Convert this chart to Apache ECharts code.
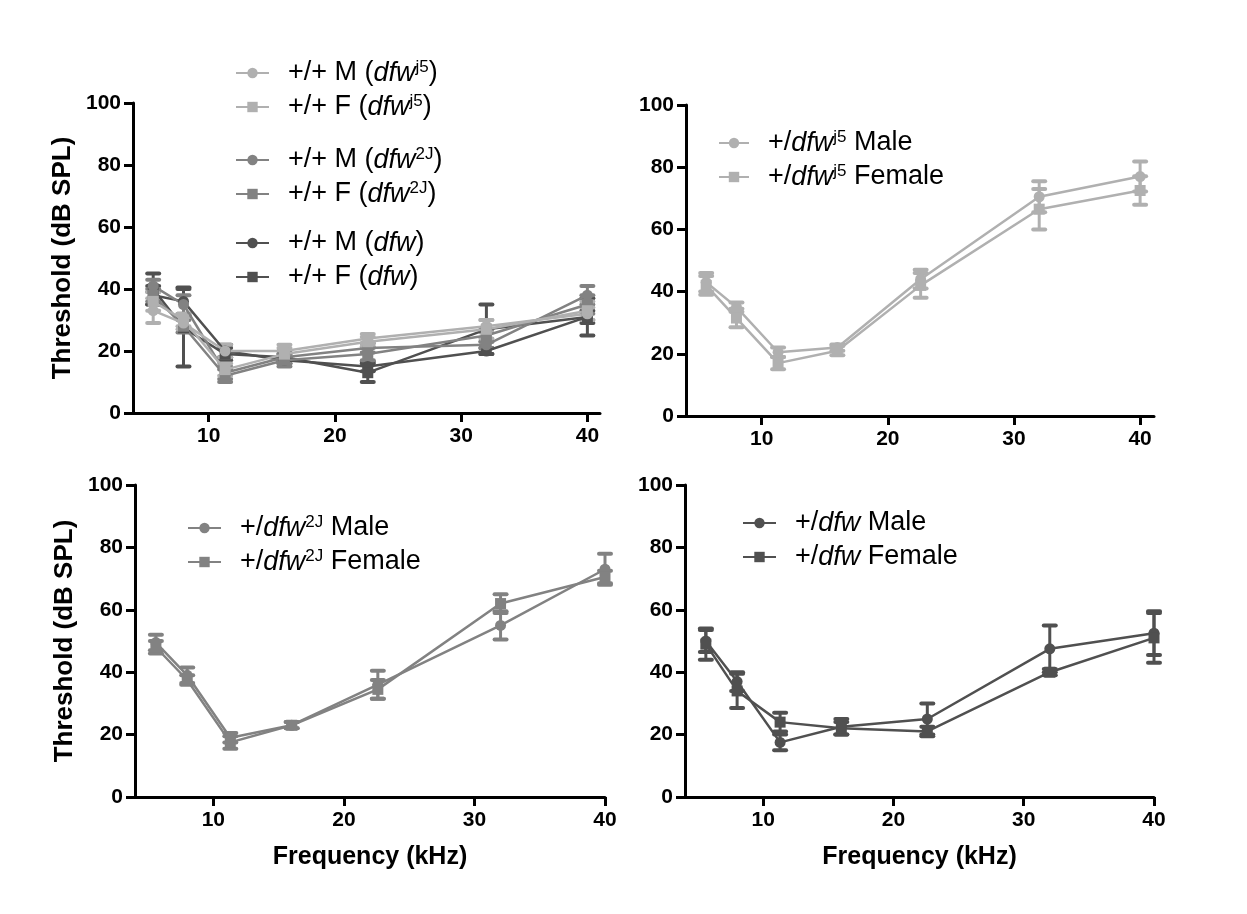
<!DOCTYPE html>
<html>
<head>
<meta charset="utf-8">
<script src="https://cdn.jsdelivr.net/npm/echarts@6/dist/echarts.min.js"></script>
<style>
html, body { margin: 0; padding: 0; background: #fff; }
#chart { width: 1247px; height: 914px; }
</style>
</head>
<body>
<div id="chart"></div>
<script>
// frequencies (kHz) and tick labels
var freqs = [5.6, 8, 11.3, 16, 22.6, 32, 40];
var xTicks = [10, 20, 30, 40];

// top left: wild type (+/+) controls, mean and SEM
var wtJ5M = [33, 29, 20, 20, 24, 28, 32];
var wtJ5MErr = [4, 2, 2, 2, 1.5, 2, 2];
var wtJ5F = [36, 30, 14, 19, 23, 27, 33];
var wtJ5FErr = [3, 2, 2, 2, 1.5, 3, 3];
var wt2JM = [41, 35, 13, 18, 21, 22, 38];
var wt2JMErr = [2, 3, 2, 2, 1.5, 1, 3];
var wt2JF = [38, 28, 12, 17, 19, 25, 35];
var wt2JFErr = [2, 2, 2, 2, 2, 2, 3];
var wtDfwM = [38, 36, 20, 17, 15, 20, 31];
var wtDfwMErr = [3, 4.5, 2, 1, 1.5, 1, 2];
var wtDfwF = [40, 27.5, 19, 18, 13, 27, 31];
var wtDfwFErr = [5, 12.5, 2, 1, 3, 8, 6];

// top right: +/dfw-j5
var hetJ5M = [43, 35, 20.5, 22, 44, 70.5, 77];
var hetJ5MErr = [3, 1.5, 1.5, 1, 3, 5, 4.8];
var hetJ5F = [42, 31.5, 17, 21, 42, 66.5, 72.5];
var hetJ5FErr = [3, 3, 2, 1.5, 4, 6.5, 4.6];

// bottom left: +/dfw-2J
var het2JM = [49.5, 39, 19, 23, 36, 55, 73];
var het2JMErr = [2.5, 2.5, 1.5, 1, 4.5, 4.5, 5];
var het2JF = [48, 37.5, 17.5, 23, 34.5, 62, 70.5];
var het2JFErr = [2, 1.5, 2, 1, 3, 3, 2];

// bottom right: +/dfw
var hetDfwM = [50, 37, 17.5, 22.5, 25, 47.5, 52.5];
var hetDfwMErr = [3.5, 3, 2.5, 2.5, 5, 7.5, 7];
var hetDfwF = [49, 34, 24, 22, 21, 40, 51];
var hetDfwFErr = [5, 5.5, 3, 2, 1.5, 1, 8];

var FONT = '"Liberation Sans", Arial, sans-serif';
var LIGHT = '#b0b0b0', MID = '#828282', DARK = '#505050';

var labels = {
    wtJ5M: '{sp|}+/+ M ({i|dfw}{sup|j5})',
    wtJ5F: '{sp|}+/+ F ({i|dfw}{sup|j5})',
    wt2JM: '{sp|}+/+ M ({i|dfw}{sup|2J})',
    wt2JF: '{sp|}+/+ F ({i|dfw}{sup|2J})',
    wtDfwM: '{sp|}+/+ M ({i|dfw})',
    wtDfwF: '{sp|}+/+ F ({i|dfw})',
    hetJ5M: '{sp|}+/{i|dfw}{sup|j5} Male',
    hetJ5F: '{sp|}+/{i|dfw}{sup|j5} Female',
    het2JM: '{sp|}+/{i|dfw}{sup|2J} Male',
    het2JF: '{sp|}+/{i|dfw}{sup|2J} Female',
    hetDfwM: '{sp|}+/{i|dfw} Male',
    hetDfwF: '{sp|}+/{i|dfw} Female'
};

var myChart = echarts.init(document.getElementById('chart'));

function line(name, vals, color, symbol, idx) {
    return {
        name: name, type: 'line', xAxisIndex: idx, yAxisIndex: idx,
        data: freqs.map(function (f, i) { return [f, vals[i]]; }),
        symbol: symbol, symbolSize: 11,
        lineStyle: {color: color, width: 2.5},
        itemStyle: {color: color},
        z: 3, animation: false
    };
}

function errBars(name, vals, errs, color, idx) {
    return {
        name: name + '_err', type: 'custom', xAxisIndex: idx, yAxisIndex: idx,
        data: freqs.map(function (f, i) { return [f, vals[i] - errs[i], vals[i] + errs[i]]; }),
        encode: {x: 0, y: [1, 2]},
        renderItem: function (params, api) {
            var hi = api.coord([api.value(0), api.value(2)]);
            var lo = api.coord([api.value(0), api.value(1)]);
            var s = {stroke: color, lineWidth: 3};
            var c = {stroke: color, lineWidth: 4, lineCap: 'round'};
            return {type: 'group', children: [
                {type: 'line', shape: {x1: hi[0], y1: hi[1], x2: lo[0], y2: lo[1]}, style: s},
                {type: 'line', shape: {x1: hi[0] - 6, y1: hi[1], x2: hi[0] + 6, y2: hi[1]}, style: c},
                {type: 'line', shape: {x1: lo[0] - 6, y1: lo[1], x2: lo[0] + 6, y2: lo[1]}, style: c}
            ]};
        },
        z: 2, silent: true, animation: false
    };
}

function pair(nameM, m, mErr, nameF, f, fErr, color, idx) {
    return [
        errBars(nameM, m, mErr, color, idx),
        line(nameM, m, color, 'circle', idx),
        errBars(nameF, f, fErr, color, idx),
        line(nameF, f, color, 'rect', idx)
    ];
}

function xAxis(idx, max, withName) {
    return {
        type: 'value', gridIndex: idx, min: 4, max: max,
        axisLine: {lineStyle: {color: '#000', width: 3}},
        axisTick: {length: 9, lineStyle: {color: '#000', width: 3}, customValues: xTicks},
        axisLabel: {customValues: xTicks, fontFamily: FONT, fontSize: 21, fontWeight: 'bold', color: '#000', margin: 13},
        splitLine: {show: false},
        name: withName ? 'Frequency (kHz)' : '',
        nameLocation: 'middle', nameGap: 48,
        nameTextStyle: {fontFamily: FONT, fontSize: 25, fontWeight: 'bold', color: '#000'}
    };
}

function yAxis(idx, withName) {
    return {
        type: 'value', gridIndex: idx, min: 0, max: 100, interval: 20,
        axisLine: {show: true, lineStyle: {color: '#000', width: 3}},
        axisTick: {show: true, length: 9, lineStyle: {color: '#000', width: 3}},
        axisLabel: {fontFamily: FONT, fontSize: 21, fontWeight: 'bold', color: '#000', margin: 12},
        splitLine: {show: false},
        name: withName ? 'Threshold (dB SPL)' : '',
        nameLocation: 'middle', nameGap: 57,
        nameTextStyle: {fontFamily: FONT, fontSize: 26, fontWeight: 'bold', color: '#000'}
    };
}

function legend(names, left, top, width) {
    return {
        data: names, left: left, top: top, orient: 'vertical',
        padding: 0, itemWidth: width, itemHeight: 13, itemGap: 6,
        selectedMode: false,
        formatter: function (name) { return labels[name]; },
        textStyle: {
            fontFamily: FONT, fontSize: 27, color: '#000', lineHeight: 28,
            rich: {
                sp: {width: 14},
                i: {fontFamily: FONT, fontSize: 27, fontStyle: 'italic', color: '#000'},
                sup: {fontFamily: FONT, fontSize: 17, color: '#000', verticalAlign: 'top', lineHeight: 28}
            }
        }
    };
}

var series = [].concat(
    pair('wtDfwM', wtDfwM, wtDfwMErr, 'wtDfwF', wtDfwF, wtDfwFErr, DARK, 0),
    pair('wt2JM', wt2JM, wt2JMErr, 'wt2JF', wt2JF, wt2JFErr, MID, 0),
    pair('wtJ5M', wtJ5M, wtJ5MErr, 'wtJ5F', wtJ5F, wtJ5FErr, LIGHT, 0),
    pair('hetJ5M', hetJ5M, hetJ5MErr, 'hetJ5F', hetJ5F, hetJ5FErr, LIGHT, 1),
    pair('het2JM', het2JM, het2JMErr, 'het2JF', het2JF, het2JFErr, MID, 2),
    pair('hetDfwM', hetDfwM, hetDfwMErr, 'hetDfwF', hetDfwF, hetDfwFErr, DARK, 3)
);

var option = {
    backgroundColor: '#fff',
    animation: false,
    grid: [
        {left: 133, right: 647, top: 103, bottom: 501},
        {left: 686, right: 93, top: 105, bottom: 498},
        {left: 135, right: 642, top: 485, bottom: 117},
        {left: 685, right: 93, top: 485, bottom: 117}
    ],
    xAxis: [xAxis(0, 41, false), xAxis(1, 41.1, false), xAxis(2, 40, true), xAxis(3, 40, true)],
    yAxis: [yAxis(0, true), yAxis(1, false), yAxis(2, true), yAxis(3, false)],
    legend: [
        legend(['wtJ5M', 'wtJ5F'], 235, 59, 33),
        legend(['wt2JM', 'wt2JF'], 235, 146, 33),
        legend(['wtDfwM', 'wtDfwF'], 235, 229, 33),
        legend(['hetJ5M', 'hetJ5F'], 718, 129, 30),
        legend(['het2JM', 'het2JF'], 187, 514, 33),
        legend(['hetDfwM', 'hetDfwF'], 742, 509, 33)
    ],
    series: series
};

myChart.setOption(option);
</script>
</body>
</html>
